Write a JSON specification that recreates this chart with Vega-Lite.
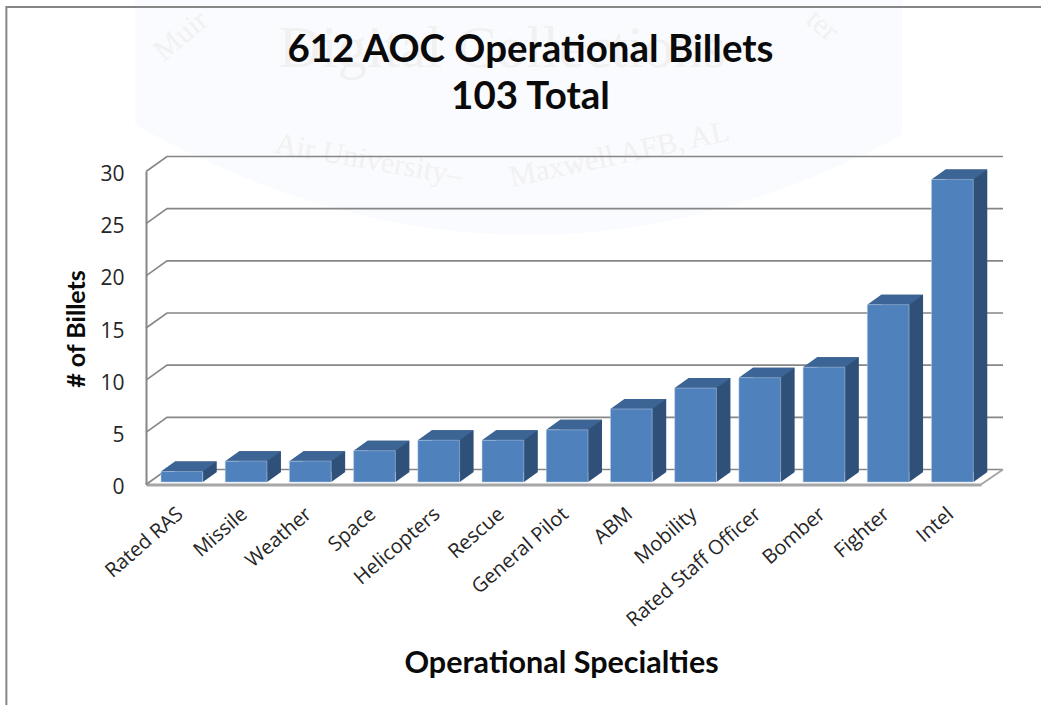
{
"$schema":"https://vega.github.io/schema/vega-lite/v6.json",
"width":835,"height":313,
"autosize":"none",
"padding":{"left":146,"top":171.5,"right":60,"bottom":220.5},
"background":"white",
"config":{"view":{"stroke":null}},
"title":{"text":["612 AOC Operational Billets","103 Total"],"frame":"group","anchor":"middle","dx":-33,"offset":-117,"font":"Lato","fontWeight":"bold","fontSize":38.5,"lineHeight":47,"color":"#0a0a0a"},
"datasets":{
"bars":[
{"specialty":"Rated RAS","billets":1},{"specialty":"Missile","billets":2},{"specialty":"Weather","billets":2},{"specialty":"Space","billets":3},{"specialty":"Helicopters","billets":4},{"specialty":"Rescue","billets":4},{"specialty":"General Pilot","billets":5},{"specialty":"ABM","billets":7},{"specialty":"Mobility","billets":9},{"specialty":"Rated Staff Officer","billets":10},{"specialty":"Bomber","billets":11},{"specialty":"Fighter","billets":17},{"specialty":"Intel","billets":29}],
"ticks":[{"tick":0},{"tick":5},{"tick":10},{"tick":15},{"tick":20},{"tick":25},{"tick":30}],
"base":[{"floor":0,"specialty":"Rated RAS","top":30}],
"mark":[
{"label":"Air University–","specialty":"Space","level":31.1,"dx":15,"angle":10,"size":30},
{"label":"Maxwell AFB, AL","specialty":"ABM","level":31.6,"dx":9,"angle":-12,"size":30},
{"label":"Digital Collections","specialty":"General Pilot","level":41.7,"dx":-44,"angle":0,"size":59},
{"label":"Muir","specialty":"Rated RAS","level":43,"dx":20,"angle":-40,"size":30},
{"label":"ter","specialty":"Fighter","level":44,"dx":-45,"angle":40,"size":30}]
},
"encoding":{
"x":{"field":"specialty","type":"nominal","sort":null,
 "scale":{"domain":["Rated RAS","Missile","Weather","Space","Helicopters","Rescue","General Pilot","ABM","Mobility","Rated Staff Officer","Bomber","Fighter","Intel"],"paddingInner":0.35,"paddingOuter":0.177,"align":0.66},
 "axis":{"title":"Operational Specialties","titleFont":"Lato","titleFontWeight":"bold","titleFontSize":30.5,"titleColor":"#0a0a0a","titleX":415,"titleY":188,"titleBaseline":"alphabetic","titleAnchor":"middle",
  "labelAngle":-41,"labelFont":"Open Sans","labelFontSize":20,"labelColor":"#262626","labelPadding":19,"labelOffset":-8,"labelOverlap":false,"labelLimit":400,"ticks":false,"domainColor":"#a6a6a6","domainWidth":3,"grid":false}},
"y":{"field":"billets","type":"quantitative","scale":{"domain":[0,30],"nice":false},
 "axis":{"title":"# of Billets","titleFont":"Lato","titleFontWeight":"bold","titleFontSize":25,"titleColor":"#0a0a0a","titleX":-57,"titleY":157,"titleAnchor":"middle","titleAngle":-90,
  "values":[0,5,10,15,20,25,30],"labelFont":"Open Sans","labelFontSize":21,"labelColor":"#262626","labelPadding":22,"labelOffset":3,"ticks":false,"domainColor":"#868686","domainWidth":2,"grid":false}}
},
"layer":[
{"data":{"name":"base"},
 "mark":{"type":"point","shape":"M-46.5,-171.5 L720.5,-171.5 L720.5,-36.5 Q337,168.5 -46.5,-46.5 Z","size":4,"filled":true,"fill":"#fafbfe","opacity":1,"strokeWidth":0},
 "encoding":{"y":{"field":"top","type":"quantitative"}}},
{"data":{"name":"mark"},
 "mark":{"type":"text","font":"Liberation Serif","color":"#f1f1f1"},
 "encoding":{"x":{"field":"specialty","type":"nominal"},"y":{"field":"level","type":"quantitative"},"text":{"field":"label"},"xOffset":{"field":"dx","type":"quantitative","scale":null},"angle":{"field":"angle","type":"quantitative","scale":null},"size":{"field":"size","type":"quantitative","scale":null}}},
{"data":{"name":"base"},
 "mark":{"type":"point","shape":"M-175.5,533.5 L-175.5,-164.5 L860,-164.5","size":4,"filled":false,"fill":null,"stroke":"#868686","strokeWidth":2,"opacity":1},
 "encoding":{"y":{"field":"top","type":"quantitative"}}},
{"data":{"name":"ticks"},
 "mark":{"type":"point","shape":"M0,0 L21,-15 L857,-15","size":4,"filled":false,"fill":null,"stroke":"#868686","strokeWidth":1.6,"opacity":1},
 "encoding":{"x":{"value":0},"y":{"field":"tick","type":"quantitative"}}},
{"data":{"name":"base"},
 "mark":{"type":"point","shape":"M835,0 L857,-15","size":4,"filled":false,"fill":null,"stroke":"#a6a6a6","strokeWidth":2,"opacity":1},
 "encoding":{"x":{"value":0},"y":{"field":"floor","type":"quantitative"}}},
{"data":{"name":"bars"},
 "mark":{"type":"bar","color":"#2f5078","xOffset":14,"yOffset":-12.5,"y2Offset":-12.5},
 "encoding":{}},
{"data":{"name":"bars"},
 "mark":{"type":"point","shape":"M21,-2.5 L35,-12.5 L21,-12.5 Z","size":4,"filled":true,"fill":"#2f5078","strokeWidth":0,"opacity":1},
 "encoding":{"y":{"datum":0}}},
{"data":{"name":"bars"},
 "mark":{"type":"point","shape":"M-21,-2.5 L-7,-12.5 L35,-12.5 L21,-2.5 Z","size":4,"filled":true,"fill":"#3c6494","strokeWidth":0,"opacity":1},
 "encoding":{}},
{"data":{"name":"bars"},
 "mark":{"type":"bar","color":"#4f81bd","stroke":"#b9cde6","strokeWidth":0.5,"yOffset":-2.5,"y2Offset":-2.5},
 "encoding":{}}
]
}
